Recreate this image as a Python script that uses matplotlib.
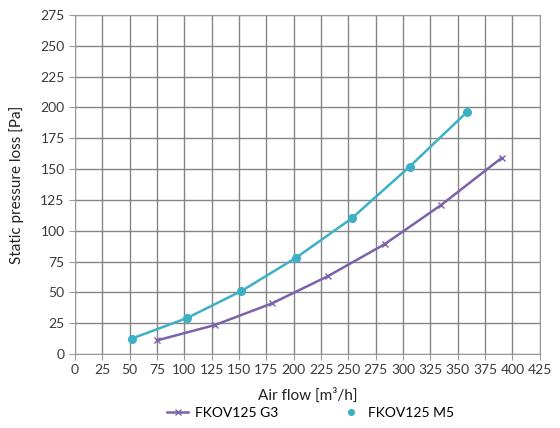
import matplotlib
matplotlib.use("Agg")
import matplotlib.pyplot as plt

flow_g3 = [75, 128, 180, 231, 283, 335, 390]
loss_g3 = [11, 23.5, 41, 63, 89, 121, 159]
flow_m5 = [52, 102, 152, 202, 253, 306, 358]
loss_m5 = [12.5, 29, 51, 78, 110, 152, 196]
x_ticks = list(range(0, 426, 25))
y_ticks = list(range(0, 276, 25))

PURPLE = "#7b62aa"
TEAL = "#3cb0c5"
plt.rcParams["font.family"] = ["Lato", "DejaVu Sans"]

fig = plt.figure(figsize=(5.6, 4.28), dpi=100)
ax = fig.add_axes([0.134, 0.173, 0.830, 0.792])

ax.plot(flow_g3, loss_g3, color=PURPLE, lw=1.8, marker="x", ms=5, mew=1.0,
        label="FKOV125 G3", zorder=3)
ax.plot(flow_m5, loss_m5, color=TEAL, lw=1.8, zorder=3)
ax.plot(flow_m5, loss_m5, color=TEAL, lw=0, marker="o", ms=5.5,
        label="FKOV125 M5", zorder=4)

ax.set_xlim(0, 425)
ax.set_ylim(0, 275)
ax.set_xticks(x_ticks)
ax.set_yticks(y_ticks)
ax.grid(True, color="#858585", lw=1.0)
ax.set_axisbelow(True)
for s in ax.spines.values():
    s.set_color("#9a9a9a")
ax.tick_params(colors="#9a9a9a", labelcolor="#3a3a3a", labelsize=10, length=4)

ax.set_xlabel("Air flow [m³/h]", fontsize=11, color="#222222", labelpad=8)
ax.set_ylabel("Static pressure loss [Pa]", fontsize=11, color="#222222", labelpad=12)

fig.legend(loc="center", bbox_to_anchor=(0.555, 0.035), ncol=2, frameon=False,
           fontsize=10, columnspacing=4.5, handlelength=1.5, handletextpad=0.5,
           markerscale=0.75)

fig.savefig("out.png", dpi=100)
